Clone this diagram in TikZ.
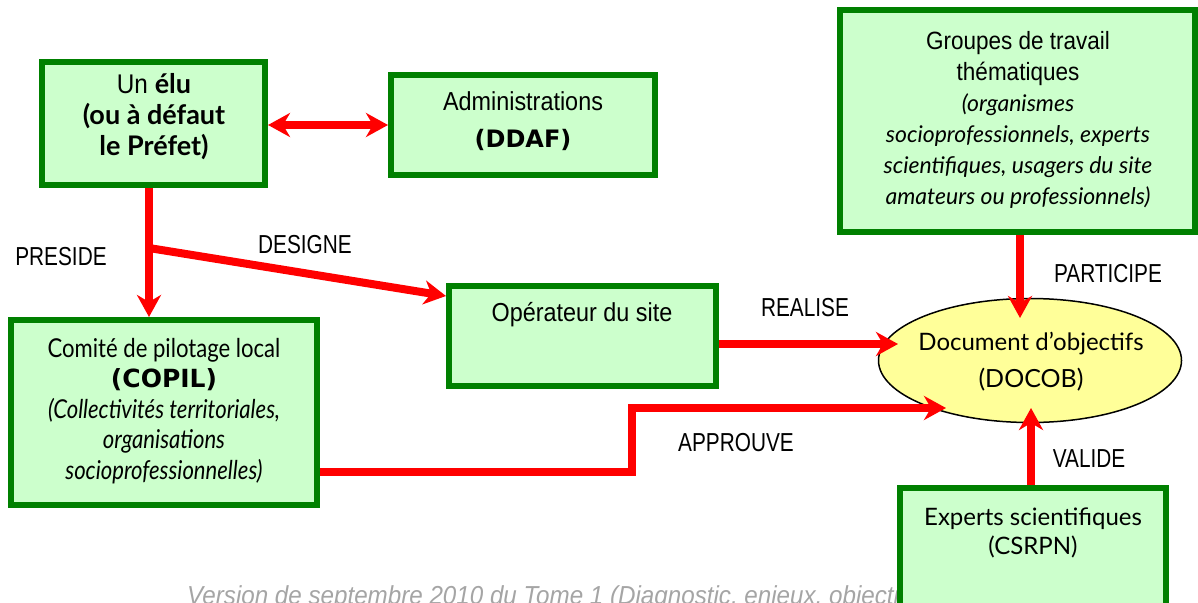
\documentclass[tikz,border=0pt]{standalone}
\usepackage{fontspec}
\setmainfont{Liberation Sans}
\newfontfamily\nar[FakeStretch=0.9]{Liberation Sans}
\newfontfamily\narl[FakeStretch=0.8]{Liberation Sans}
\newfontfamily\narf[FakeStretch=0.93]{Liberation Sans}
\newfontfamily\gil{Lato}
\newfontfamily\gilc[FakeStretch=0.85]{Lato}
\newfontfamily\dvb{DejaVu Sans}
\usetikzlibrary{arrows.meta,shapes.geometric}
\definecolor{bgreen}{RGB}{0,128,0}
\definecolor{bfill}{RGB}{204,255,204}
\definecolor{ared}{RGB}{255,0,0}
\definecolor{dyel}{RGB}{255,255,153}
\definecolor{ftgray}{RGB}{165,165,165}
\begin{document}
\begin{tikzpicture}[x=1pt,y=-1pt,
  box/.style={draw=bgreen, fill=bfill, line width=6pt, inner sep=0pt},
  conn/.style={draw=ared, line width=8pt, -{Stealth[length=22pt,width=24pt,inset=7pt]}},
  conntwo/.style={draw=ared, line width=8pt, {Stealth[length=22pt,width=24pt,inset=7pt]}-{Stealth[length=22pt,width=24pt,inset=7pt]}},
  plain/.style={draw=ared, line width=8pt},
  lbl/.style={font=\narl\fontsize{26}{30}\selectfont, inner sep=0pt},
  txt/.style={align=center, inner sep=0pt}]
\useasboundingbox (0,0) rectangle (1198,602);
\clip (0,0) rectangle (1198,602);
\fill[white] (0,0) rectangle (1198,602);

% footer (partly hidden by the Experts box, as in the reference)
\node[anchor=base west, inner sep=0pt, text=ftgray, font=\narf\itshape\fontsize{26}{30}\selectfont] (footer) at (187,604) {Version de septembre 2010 du Tome 1 (Diagnostic, enjeux, objectifs)};

% boxes
\node[box, minimum width=223pt, minimum height=123pt] (elu) at (153.5,123.5) {};
\node[box, minimum width=264pt, minimum height=100pt] (admin) at (523,125) {};
\node[box, minimum width=355pt, minimum height=222pt] (grp) at (1017.5,121) {};
\node[box, minimum width=267pt, minimum height=100pt] (oper) at (582.5,336) {};
\node[box, minimum width=306pt, minimum height=185pt] (copil) at (164,412.5) {};
\node[box, minimum width=266pt, minimum height=172pt] (experts) at (1033,574) {};
\node[ellipse, draw=black, line width=1.5pt, fill=dyel, minimum width=303pt, minimum height=124pt, inner sep=0pt] (doc) at (1030,360.5) {};

% texts
\node[txt, font=\gil\fontsize{27}{31}\selectfont] (eluT) at (154,117) {{\nar Un} \textbf{élu}\\\textbf{(ou à défaut}\\\textbf{le Préfet)}};
\node[txt, font=\nar\fontsize{26}{37}\selectfont] (adminT) at (523,121) {Administrations\\{\dvb\bfseries\fontsize{24}{37}\selectfont (DDAF)}};
\node[txt, font=\nar\fontsize{25}{31}\selectfont] (grpT) at (1018,120) {Groupes de travail\\thématiques\\{\gil\itshape\fontsize{23}{31}\selectfont (organismes}\\{\gil\itshape\fontsize{23}{31}\selectfont socioprofessionnels, experts}\\{\gil\itshape\fontsize{23}{31}\selectfont scientifiques, usagers du site}\\{\gil\itshape\fontsize{23}{31}\selectfont amateurs ou professionnels)}};
\node[txt, font=\nar\fontsize{26}{31}\selectfont] (operT) at (582,315) {Opérateur du site};
\node[txt, font=\gilc\fontsize{26}{30.5}\selectfont] (copilT) at (164,411) {Comité de pilotage local\\{\dvb\bfseries\fontsize{25}{30.5}\selectfont (COPIL)}\\{\itshape (Collectivités territoriales,}\\{\itshape organisations}\\{\itshape socioprofessionnelles)}};
\node[txt, font=\gil\fontsize{24}{37}\selectfont] (docT) at (1031,362) {Document d’objectifs\\{\fontsize{25}{37}\selectfont (DOCOB)}};
\node[txt, font=\gil\fontsize{24}{29}\selectfont] (expT) at (1033,532.5) {Experts scientifiques\\(CSRPN)};

% connector coordinates
\coordinate (split) at (149,248);
\coordinate (realtip) at (898,344);
\coordinate (bendlow) at (632,472);
\coordinate (apprtip) at (946,408);
\coordinate (parttip) at (1020,318);
\coordinate (valtip) at (1031,408);

% connectors
\draw[conntwo] (elu.east |- admin.west) -- (admin.west);
\draw[plain] (elu.south -| split) -- (split);
\draw[conn] (split) -- (copil.north -| split);
\draw[conn] (split) -- ([yshift=-13pt]oper.north west);
\draw[conn] (oper.east |- realtip) -- (realtip);
\draw[conn] (copil.east |- bendlow) -- (bendlow) -- (bendlow |- apprtip) -- (apprtip);
\draw[conn] (grp.south -| parttip) -- (parttip);
\draw[conn] (experts.north -| valtip) -- (valtip);

% labels
\node[lbl] (lpreside) at (61,257) {PRESIDE};
\node[lbl] (ldesigne) at (305,245) {DESIGNE};
\node[lbl] (lrealise) at (805,308) {REALISE};
\node[lbl] (lparticipe) at (1108,274) {PARTICIPE};
\node[lbl] (lapprouve) at (736,443) {APPROUVE};
\node[lbl] (lvalide) at (1089,459) {VALIDE};
\end{tikzpicture}
\end{document}
